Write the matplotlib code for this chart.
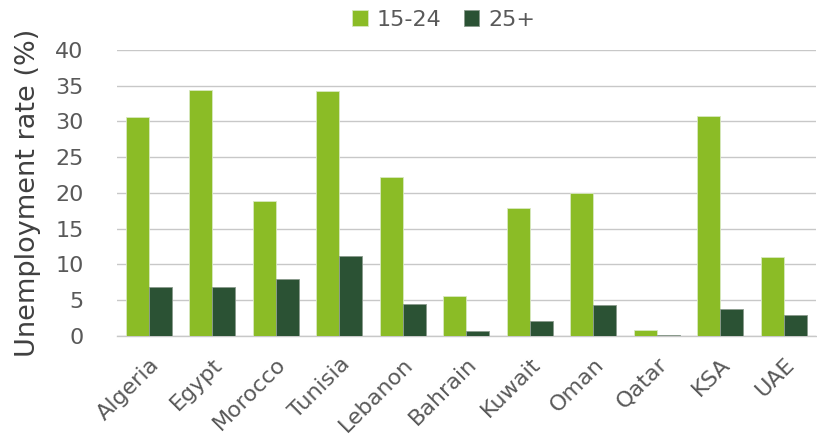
#!/usr/bin/env python3
# -*- coding: utf-8 -*-
# Taux de chomage par tranche d'age (15-24 / 25+)

import numpy as np
import matplotlib
matplotlib.use("Agg")
import matplotlib.pyplot as plt

#------- donnees -------
pays = ["Algeria", "Egypt", "Morocco", "Tunisia", "Lebanon", "Bahrain",
        "Kuwait", "Oman", "Qatar", "KSA", "UAE"]
jeunes = [30.6, 34.4, 18.9, 34.2, 22.2, 5.6, 17.9, 20.0, 0.8, 30.8, 11.1]   # 15-24
adultes = [6.8, 6.8, 8.0, 11.2, 4.5, 0.65, 2.1, 4.4, 0.2, 3.8, 2.9]        # 25+
yticks = [0, 5, 10, 15, 20, 25, 30, 35, 40]
#---------------------------------------------

vert = "#8BBC26"
vertFonce = "#2B5234"
gris = "#595959"

plt.rcParams["font.family"] = ["DejaVu Sans"]

fig = plt.figure(figsize=(8.17, 4.38), dpi=100)
ax = fig.add_axes([0.1432, 0.2329, 0.855, 0.6531])

x = np.arange(len(pays))
largeur = 0.36
ax.bar(x - largeur/2, jeunes, largeur, color=vert, edgecolor="#d8e8c0",
       linewidth=0.6, label="15-24", zorder=3)
ax.bar(x + largeur/2, adultes, largeur, color=vertFonce, edgecolor="#8a9a8c",
       linewidth=0.6, label="25+", zorder=3)

ax.set_xlim(-0.5, len(pays) - 0.5)
ax.set_ylim(0, 40)
ax.set_yticks(yticks)
ax.set_xticks(x)
ax.set_xticklabels(pays, rotation=45, ha="right", rotation_mode="anchor")

ax.grid(axis="y", color="#c8c8c8", linewidth=1.0, zorder=0)
for s in ["top", "right", "left"]:
    ax.spines[s].set_visible(False)
ax.spines["bottom"].set_color("#c8c8c8")
ax.spines["bottom"].set_linewidth(1.0)
ax.tick_params(axis="both", length=0, labelsize=16, labelcolor=gris)
ax.tick_params(axis="y", pad=24)
ax.tick_params(axis="x", pad=13)

ax.set_ylabel("Unemployment rate (%)", fontsize=19.5, color="#404040", labelpad=10)

fig.legend(loc="center", bbox_to_anchor=(0.543, 0.955), ncol=2, frameon=False,
           fontsize=16, handlelength=0.7, handleheight=0.7, handletextpad=0.4,
           columnspacing=1.0, labelcolor=gris)

fig.savefig("out.png", dpi=100)
